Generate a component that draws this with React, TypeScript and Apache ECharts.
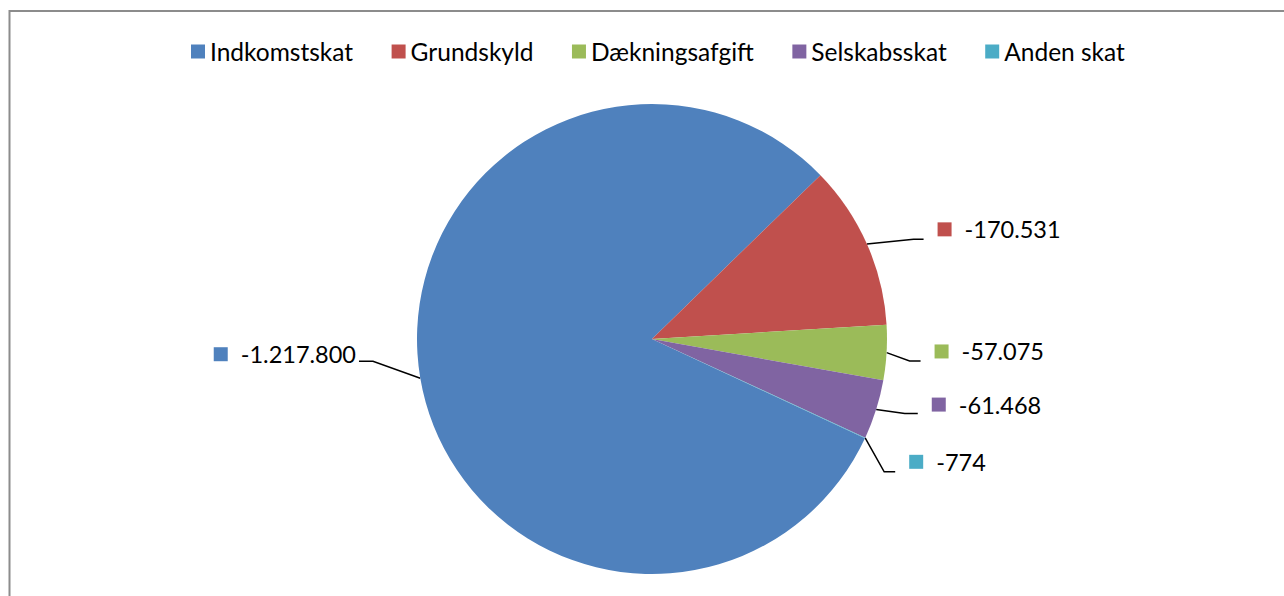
import React, { useEffect, useRef } from "react";
import * as echarts from "echarts";

const categories = ["Indkomstskat", "Grundskyld", "Dækningsafgift", "Selskabsskat", "Anden skat"];
const values = [-1217800, -170531, -57075, -61468, -774];
const colors = ["#4F81BD", "#C0504D", "#9BBB59", "#8064A2", "#4BACC6"];
// leader line lengths per slice: [radial, horizontal]
const lineLengths = [
  [48, 14],
  [51, 10],
  [23, 11],
  [30, 13],
  [21, 11],
];
const labelGaps = [3, 14, 14, 14, 14];
// vertical nudges of label text and of the leader line's outer part
const labelShiftY = [-32, 6, -2.5, -14, 15];
const lineShiftY = [-25, 16, 7, -5, 25];

const FONT = "Lato";

function fmt(v: number): string {
  const s = Math.abs(v).toString().replace(/\B(?=(\d{3})+(?!\d))/g, ".");
  return (v < 0 ? "-" : "") + s;
}

export default function App() {
  const ref = useRef<HTMLDivElement>(null);
  useEffect(() => {
    if (!ref.current) return;
    const chart = echarts.init(ref.current, undefined, { renderer: "svg" });
    const data = categories.map((name, i) => ({
      name,
      value: Math.abs(values[i]),
      raw: values[i],
      itemStyle: { color: colors[i] },
      labelLine: { length: lineLengths[i][0], length2: lineLengths[i][1] },
      label: {
        distanceToLabelLine: labelGaps[i],
        rich: {
          sq: { width: 14, height: 14, backgroundColor: colors[i] },
          v: { fontFamily: FONT, fontSize: 23.5, color: "#000", padding: [0, 0, 0, 13] },
        },
      },
    }));
    chart.setOption({
      animation: false,
      backgroundColor: "#fff",
      color: colors,
      graphic: [
        {
          type: "rect",
          shape: { x: 9.5, y: 11, width: 1400, height: 700 },
          style: { fill: "none", stroke: "#8c8c8c", lineWidth: 2 },
          silent: true,
        },
      ],
      legend: {
        left: 191,
        top: 39,
        padding: 0,
        itemWidth: 14,
        itemHeight: 14,
        itemGap: 38.5,
        icon: "rect",
        textStyle: { fontFamily: FONT, fontSize: 24.5, color: "#000" },
        data: categories,
      },
      series: [
        {
          type: "pie",
          center: [652, 339],
          radius: 235,
          startAngle: -25,
          clockwise: true,
          data,
          itemStyle: { borderWidth: 0 },
          label: {
            show: true,
            position: "outside",
            formatter: (p: any) => `{sq|}{v|${fmt(p.data.raw)}}`,
          },
          labelLine: {
            show: true,
            smooth: false,
            lineStyle: { color: "#000", width: 1.5 },
          },
          labelLayout: (p: any) => {
            const i = p.dataIndex;
            const pts = p.labelLinePoints;
            const ly = lineShiftY[i];
            const out: any = { dy: labelShiftY[i] };
            if (pts && pts.length === 3) {
              out.labelLinePoints = [
                [pts[0][0], pts[0][1]],
                [pts[1][0], pts[1][1] + ly],
                [pts[2][0], pts[2][1] + ly],
              ];
            }
            return out;
          },
          emphasis: { disabled: true },
        },
      ],
    });
    return () => chart.dispose();
  }, []);
  return (
    <div
      ref={ref}
      style={{ position: "absolute", left: 0, top: 0, width: 1284, height: 596 }}
    />
  );
}
